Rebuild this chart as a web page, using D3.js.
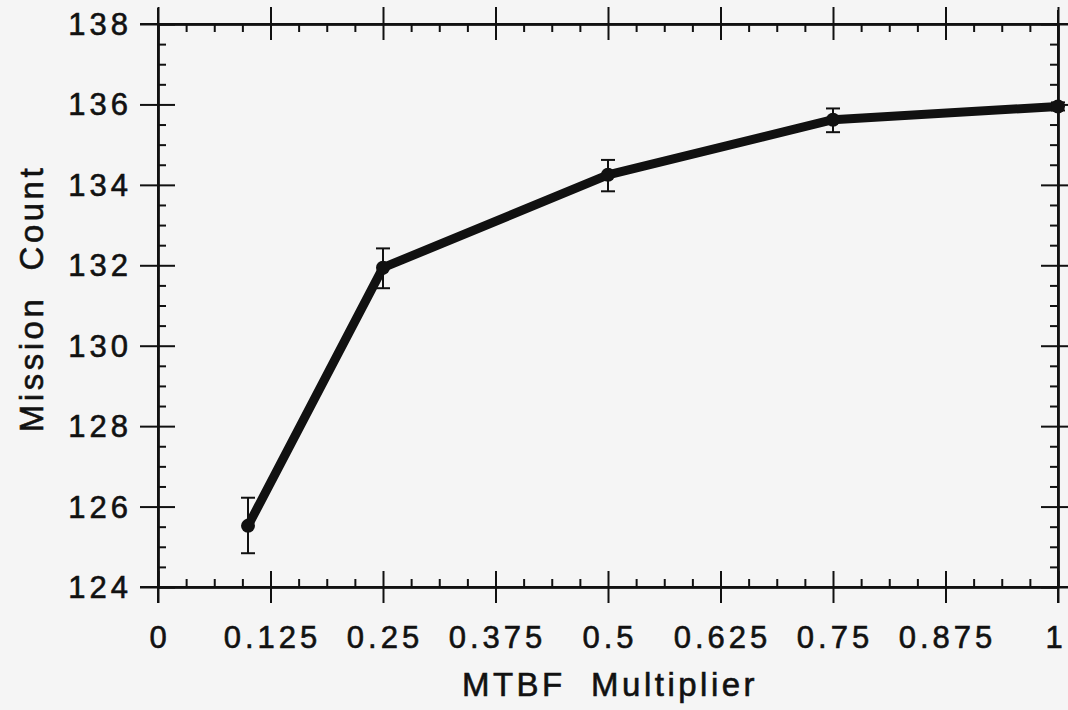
<!DOCTYPE html>
<html>
<head>
<meta charset="utf-8">
<script src="https://cdn.jsdelivr.net/npm/d3@7"></script>
<style>
  html, body { margin: 0; padding: 0; background: #f5f5f5; }
  svg { display: block; }
  text { font-family: "Liberation Sans", Arial, Helvetica, sans-serif; fill: #111; stroke: #111; stroke-width: 0.6px; }
</style>
</head>
<body>
<svg id="chart" width="1068" height="710"></svg>
<script>
// ---- data ----
const xValues = [0.1, 0.25, 0.5, 0.75, 1.0];
const missionCount = [125.52, 131.94, 134.25, 135.62, 135.95];
const errLow = [124.84, 131.43, 133.84, 135.31, 135.85];
const errHigh = [126.22, 132.42, 134.62, 135.90, 136.05];
const xTickValues = [0, 0.125, 0.25, 0.375, 0.5, 0.625, 0.75, 0.875, 1];
const xTickLabels = ["0", "0.125", "0.25", "0.375", "0.5", "0.625", "0.75", "0.875", "1"];
const yTickValues = [124, 126, 128, 130, 132, 134, 136, 138];
const yTickLabels = ["124", "126", "128", "130", "132", "134", "136", "138"];
const xTitle = "MTBF  Multiplier";
const yTitle = "Mission  Count";

(function () {
// ---- layout ----
const svg = d3.select("#chart");
const pL = 158, pR = 1058, pT = 24, pB = 587;
const x = d3.scaleLinear().domain([0, 1]).range([pL, pR]);
const y = d3.scaleLinear().domain([124, 138]).range([pB, pT]);

const xMinor = d3.range(0, 1.0001, 0.03125).filter(v => Math.abs((v / 0.125) - Math.round(v / 0.125)) > 1e-6);
const yMinor = d3.range(124, 138.0001, 0.5).filter(v => Math.abs(v / 2 - Math.round(v / 2)) > 1e-6);

const ink = "#111";
function styleAxis(g) {
  g.selectAll("path.domain").attr("stroke", ink).attr("stroke-width", 2);
  g.selectAll(".tick line").attr("stroke", ink).attr("stroke-width", 2);
  g.selectAll("text").remove();
}

// bottom axis: majors crossing, minors inward
svg.append("g").attr("transform", `translate(0,${pB})`)
  .call(d3.axisBottom(x).tickValues(xTickValues).tickSize(16).tickSizeOuter(0)).call(styleAxis);
svg.append("g").attr("transform", `translate(0,${pB})`)
  .call(d3.axisTop(x).tickValues(xTickValues).tickSize(16).tickSizeOuter(0)).call(styleAxis);
svg.append("g").attr("transform", `translate(0,${pB})`)
  .call(d3.axisTop(x).tickValues(xMinor).tickSize(8).tickSizeOuter(0)).call(styleAxis);

// top axis
svg.append("g").attr("transform", `translate(0,${pT})`)
  .call(d3.axisTop(x).tickValues(xTickValues).tickSize(17).tickSizeOuter(0)).call(styleAxis);
svg.append("g").attr("transform", `translate(0,${pT})`)
  .call(d3.axisBottom(x).tickValues(xTickValues).tickSize(16).tickSizeOuter(0)).call(styleAxis);
svg.append("g").attr("transform", `translate(0,${pT})`)
  .call(d3.axisBottom(x).tickValues(xMinor).tickSize(8).tickSizeOuter(0)).call(styleAxis);

// left axis
svg.append("g").attr("transform", `translate(${pL},0)`)
  .call(d3.axisLeft(y).tickValues(yTickValues).tickSize(18).tickSizeOuter(0)).call(styleAxis);
svg.append("g").attr("transform", `translate(${pL},0)`)
  .call(d3.axisRight(y).tickValues(yTickValues).tickSize(17).tickSizeOuter(0)).call(styleAxis);
svg.append("g").attr("transform", `translate(${pL},0)`)
  .call(d3.axisRight(y).tickValues(yMinor).tickSize(8).tickSizeOuter(0)).call(styleAxis);

// right axis
svg.append("g").attr("transform", `translate(${pR},0)`)
  .call(d3.axisLeft(y).tickValues(yTickValues).tickSize(17).tickSizeOuter(0)).call(styleAxis);
svg.append("g").attr("transform", `translate(${pR},0)`)
  .call(d3.axisRight(y).tickValues(yTickValues).tickSize(18).tickSizeOuter(0)).call(styleAxis);
svg.append("g").attr("transform", `translate(${pR},0)`)
  .call(d3.axisLeft(y).tickValues(yMinor).tickSize(8).tickSizeOuter(0)).call(styleAxis);

// extend axis lines slightly past the corners like the reference
svg.append("g").selectAll("line").data([
  [pL, pT - 16, pL, pB + 16],
  [pR, pT - 14, pR, pB + 16],
  [pL - 18, pT, pR + 10, pT],
  [pL - 18, pB, pR + 10, pB]
]).join("line")
  .attr("x1", d => d[0]).attr("y1", d => d[1]).attr("x2", d => d[2]).attr("y2", d => d[3])
  .attr("stroke", ink).attr("stroke-width", 2);

// tick labels
svg.append("g").selectAll("text").data(xTickValues).join("text")
  .attr("x", (d, i) => x(d) + (i === xTickValues.length - 1 ? -2 : 2))
  .attr("y", pB + 61)
  .attr("text-anchor", "middle")
  .style("font-size", "31px")
  .style("letter-spacing", "4px")
  .text((d, i) => xTickLabels[i]);

svg.append("g").selectAll("text").data(yTickValues).join("text")
  .attr("x", pL - 26)
  .attr("y", d => y(d) + 11)
  .attr("text-anchor", "end")
  .style("font-size", "31px")
  .style("letter-spacing", "4px")
  .text((d, i) => yTickLabels[i]);

// axis titles
svg.append("text")
  .attr("x", (pL + pR) / 2 + 2)
  .attr("y", 696)
  .attr("text-anchor", "middle")
  .style("font-size", "33px")
  .style("letter-spacing", "3.5px")
  .style("white-space", "pre")
  .text(xTitle);

svg.append("text")
  .attr("transform", `translate(43,${(165 + 432) / 2}) rotate(-90)`)
  .attr("text-anchor", "middle")
  .style("font-size", "33px")
  .style("letter-spacing", "3.5px")
  .style("white-space", "pre")
  .text(yTitle);

// data
const pts = xValues.map((v, i) => ({ x: v, y: missionCount[i], lo: errLow[i], hi: errHigh[i] }));

const eb = svg.append("g").attr("stroke", ink).attr("stroke-width", 2);
eb.selectAll("line.v").data(pts).join("line").attr("class", "v")
  .attr("x1", d => x(d.x)).attr("x2", d => x(d.x))
  .attr("y1", d => y(d.lo)).attr("y2", d => y(d.hi));
eb.selectAll("line.t").data(pts).join("line").attr("class", "t")
  .attr("x1", d => x(d.x) - 7).attr("x2", d => x(d.x) + 7)
  .attr("y1", d => y(d.hi)).attr("y2", d => y(d.hi));
eb.selectAll("line.b").data(pts).join("line").attr("class", "b")
  .attr("x1", d => x(d.x) - 7).attr("x2", d => x(d.x) + 7)
  .attr("y1", d => y(d.lo)).attr("y2", d => y(d.lo));

svg.append("path").datum(pts)
  .attr("fill", "none").attr("stroke", ink).attr("stroke-width", 9)
  .attr("stroke-linejoin", "round").attr("stroke-linecap", "round")
  .attr("d", d3.line().x(d => x(d.x)).y(d => y(d.y)));

svg.append("g").selectAll("circle").data(pts).join("circle")
  .attr("cx", d => x(d.x)).attr("cy", d => y(d.y)).attr("r", 7).attr("fill", ink);
})();
</script>
</body>
</html>
